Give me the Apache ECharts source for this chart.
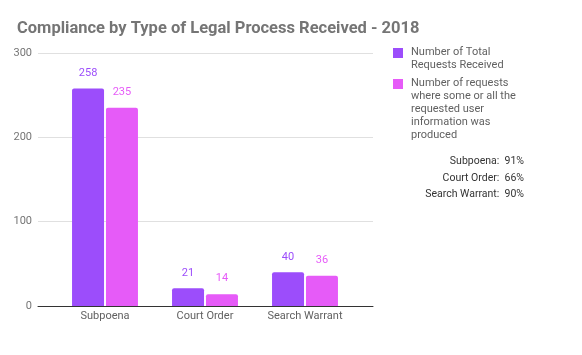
<!DOCTYPE html>
<html><head><meta charset="utf-8">
<script src="https://cdn.jsdelivr.net/npm/echarts@6/dist/echarts.min.js"></script>
<style>html,body{margin:0;padding:0;background:#fff}#c{width:582px;height:355px}</style>
</head><body><div id="c"></div>
<script>
const titleText = 'Compliance by Type of Legal Process Received - 2018';
const categories = ['Subpoena', 'Court Order', 'Search Warrant'];
const totalRequests = [258, 21, 40];
const producedRequests = [235, 14, 36];
const yTicks = [0, 100, 200, 300];
const seriesNames = ['Number of Total\nRequests Received', 'Number of requests\nwhere some or all the\nrequested user\ninformation was\nproduced'];
const complianceNotes = ['Subpoena:  91%', 'Court Order:  66%', 'Search Warrant:  90%'];
const colors = ['#9c4dfb', '#e65bf8'];

const chart = echarts.init(document.getElementById('c'));
const font = 'Roboto, "Noto Sans", sans-serif';
chart.setOption({
  animation: false,
  textStyle: { fontFamily: font },
  title: { text: titleText, left: 12, top: 15,
    textStyle: { fontSize: 16.5, fontWeight: 'bold', color: '#757575', fontFamily: font } },
  grid: [
    { left: 38, right: 209, top: 53, bottom: 49 },
    { left: 55, right: 227, top: 53, bottom: 49 }
  ],
  xAxis: [
    { type: 'category', gridIndex: 0, data: [''], axisLine: { lineStyle: { color: '#333', width: 1 } },
      axisTick: { show: false }, axisLabel: { show: false } },
    { type: 'category', gridIndex: 1, data: categories, axisLine: { show: false }, axisTick: { show: false },
      axisLabel: { color: '#616161', fontSize: 11, margin: 5, fontFamily: font } }
  ],
  yAxis: [
    { type: 'value', gridIndex: 0, min: yTicks[0], max: yTicks[yTicks.length - 1], interval: 100,
      axisLine: { show: false }, axisTick: { show: false },
      axisLabel: { color: '#757575', fontSize: 11, margin: 6, fontFamily: font },
      splitLine: { lineStyle: { color: '#e0e0e0', width: 1 } } },
    { type: 'value', gridIndex: 1, min: 0, max: 300, interval: 100, show: false, splitLine: { show: false } }
  ],
  series: [
    { name: seriesNames[0], type: 'bar', xAxisIndex: 1, yAxisIndex: 1, data: totalRequests,
      barWidth: 32, barGap: '6%', itemStyle: { color: colors[0], borderRadius: [2, 2, 0, 0] },
      label: { show: true, position: 'top', distance: 10, color: colors[0], fontSize: 11, fontFamily: font } },
    { name: seriesNames[1], type: 'bar', xAxisIndex: 1, yAxisIndex: 1, data: producedRequests,
      barWidth: 32, barGap: '6%', itemStyle: { color: colors[1], borderRadius: [2, 2, 0, 0] },
      label: { show: true, position: 'top', distance: 10, color: colors[1], fontSize: 11, fontFamily: font } }
  ],
  graphic: [
    { type: 'rect', left: 393, top: 48, shape: { width: 10, height: 10 }, style: { fill: colors[0] } },
    { type: 'text', left: 411, top: 46, style: { text: seriesNames[0], fill: '#616161', fontSize: 11,
      lineHeight: 13, fontFamily: font } },
    { type: 'rect', left: 393, top: 79, shape: { width: 10, height: 10 }, style: { fill: colors[1] } },
    { type: 'text', left: 411, top: 77, style: { text: seriesNames[1], fill: '#616161', fontSize: 11,
      lineHeight: 13, fontFamily: font } },
    ...complianceNotes.map((t, i) => ({ type: 'text', right: 58, top: 156 + i * 16.5,
      style: { text: t, fill: '#333', fontSize: 10.5, fontFamily: font, textAlign: 'right' } }))
  ]
});
</script></body></html>
